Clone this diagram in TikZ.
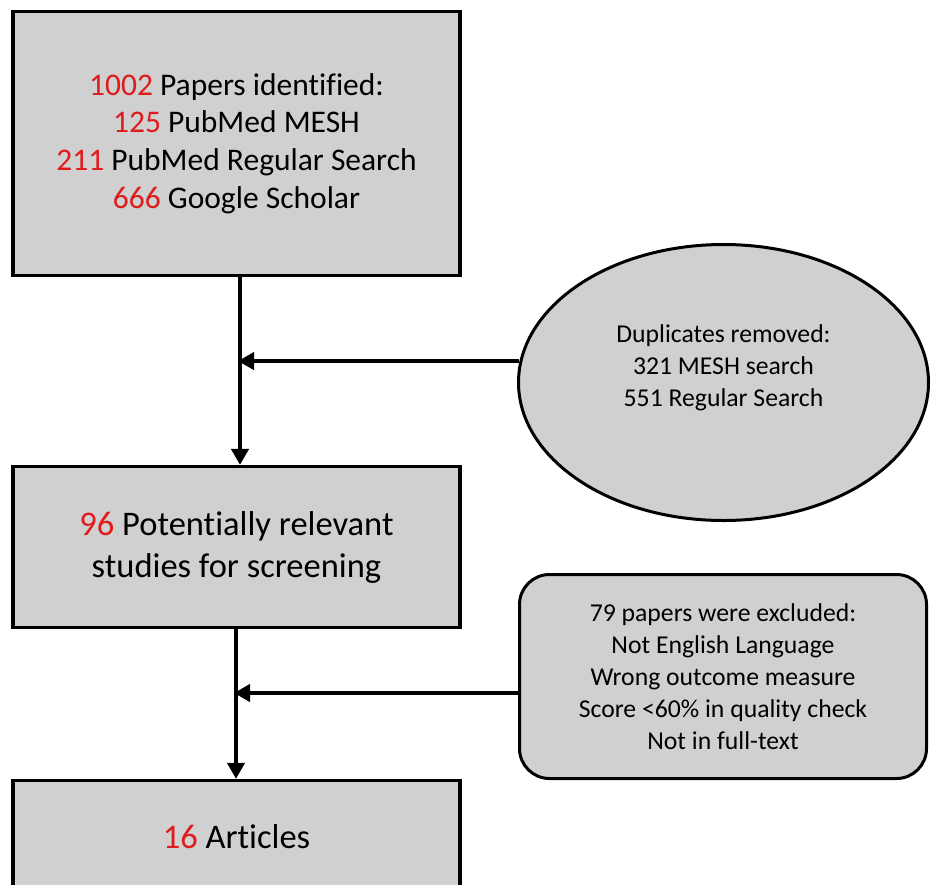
\documentclass[tikz,border=0pt]{standalone}
\usepackage{fontspec}
\setmainfont{Carlito}[Ligatures=NoCommon]
\usetikzlibrary{shapes,arrows.meta}
\definecolor{boxgray}{RGB}{209,208,209}
\definecolor{numred}{RGB}{224,27,30}
\newcommand{\rednum}[1]{\textcolor{numred}{#1}}

\begin{document}
\begin{tikzpicture}[x=1pt,y=-1pt]
    \tikzset{box/.style={rectangle,draw,line width=3.2pt,fill=boxgray,minimum width=447pt,align=center},
             side/.style={draw,line width=3pt,fill=boxgray,align=center,font=\fontsize{25.7}{32}\selectfont},
             flow/.style={line width=4pt,-{Triangle[length=16pt,width=17pt]}}};
    \useasboundingbox (0,0) rectangle (931,884);
    \clip (0,0) rectangle (931,884);
	\node (ident) at (236.5,143.5) [box,minimum height=264pt,font=\fontsize{31.5}{37.7}\selectfont]{\rednum{1002} Papers identified:\\\rednum{125} PubMed MESH\\\rednum{211} PubMed Regular Search\\\rednum{666} Google Scholar};
	\node (screen) at (236.5,547) [box,minimum height=161pt,font=\fontsize{34.5}{42}\selectfont]{\rednum{96} Potentially relevant\\studies for screening};
	\node (art) at (236.5,836.5) [box,minimum height=112pt,font=\fontsize{34.5}{42}\selectfont]{\rednum{16} Articles};
	\node (dup) at (723.5,382.5) [side,ellipse,minimum width=410pt,minimum height=276pt,
	      label={[name=dupText,align=center,font=\fontsize{25.7}{32}\selectfont,yshift=14.5pt]center:{Duplicates removed:\\321 MESH search\\551 Regular Search}}]{};
	\node (excl) at (723,676.5) [side,rectangle,rounded corners=30pt,minimum width=407pt,minimum height=204pt]{79 papers were excluded:\\Not English Language\\Wrong outcome measure\\Score <60\% in quality check\\Not in full-text};
	\coordinate (j1) at (240,360);
	\coordinate (j2) at (236,693);
	\draw[flow] (ident.south -| j1) -- (screen.north -| j1);
	\draw[flow] (screen.south -| j2) -- (art.north -| j2);
	\draw[flow,shorten >=-2pt] (dup.174) -- (dup.174 -| j1);
	\draw[flow,shorten >=-2pt] ([yshift=-16.5pt]excl.west) -- ([yshift=-16.5pt]excl.west -| j2);
\end{tikzpicture}
\end{document}
